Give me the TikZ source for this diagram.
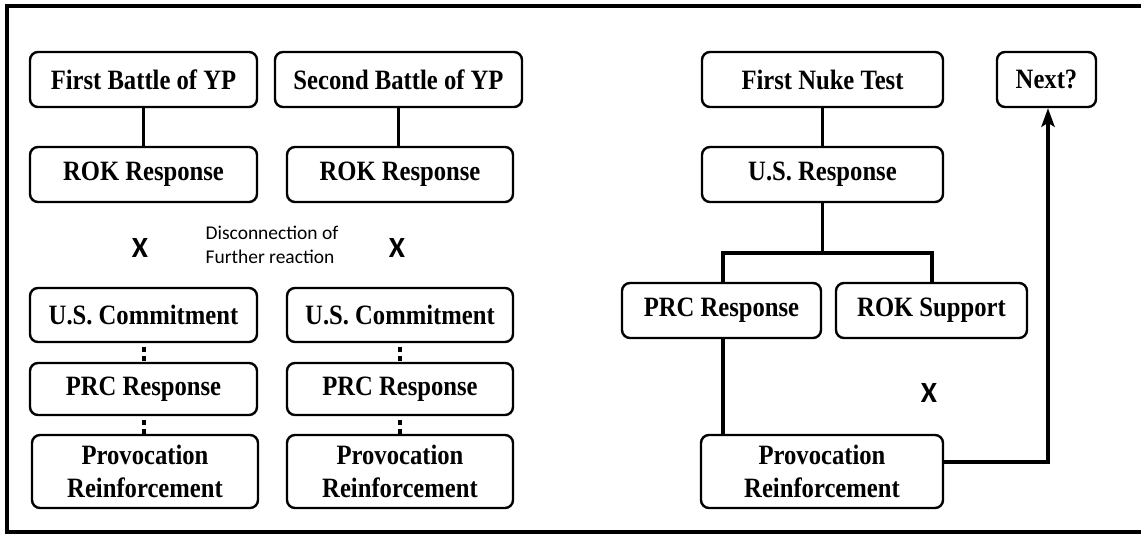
\documentclass[tikz,border=0pt]{standalone}
\usepackage{fontspec}
\setmainfont{Liberation Serif}[FakeStretch=0.88]
\newfontfamily\carl{Carlito}
\usetikzlibrary{arrows.meta}
\tikzset{
  box/.style={draw=black, line width=1.8pt, rounded corners=6pt, fill=white,
    inner sep=0pt, align=center,
    font=\bfseries\fontsize{21}{24.75}\selectfont},
  conn/.style={line width=2.4pt, line cap=rect},
  dotconn/.style={line width=3pt, dash pattern=on 3.75pt off 3pt, dash phase=4.25pt},
  xmark/.style={font=\carl\bfseries\fontsize{22}{24}\selectfont, inner sep=0pt},
  w1/.style={minimum width=170.25pt, minimum height=41.25pt},
}
\begin{document}
\begin{tikzpicture}[x=0.75pt, y=-0.75pt]
\useasboundingbox (0,0) rectangle (1141,534);
% frame
\draw[line width=3pt] (1150,6) -- (6.5,6) -- (6.5,532) -- (1150,532);

% left column 1
\node[box, w1] (fb1) at (143.5,79.5) {First Battle of YP};
\node[box, w1] (rok1) at (143.5,174.5) {ROK Response};
\node[box, minimum width=170.25pt, minimum height=40.5pt] (us1) at (143.5,315) {U.S. Commitment};
\node[box, minimum width=170.25pt, minimum height=39pt] (prc1) at (143.5,389) {PRC Response};
\node[box, minimum width=169.5pt, minimum height=54.75pt] (prov1) at (145,471.5) {Provocation\\Reinforcement};
\draw[conn] (fb1.south) -- (rok1.north);
\draw[dotconn] (us1.south) -- (prc1.north);
\draw[dotconn] (prc1.south) -- (prov1.north -| prc1.south);

% left column 2
\node[box, minimum width=185.25pt, minimum height=41.25pt] (sb) at (398.5,79.5) {Second Battle of YP};
\node[box, minimum width=169.5pt, minimum height=41.25pt] (rok2) at (400,174.5) {ROK Response};
\node[box, minimum width=169.5pt, minimum height=40.5pt] (us2) at (400,315) {U.S. Commitment};
\node[box, minimum width=169.5pt, minimum height=39pt] (prc2) at (400,389) {PRC Response};
\node[box, minimum width=169.5pt, minimum height=54.75pt] (prov2) at (400,471.5) {Provocation\\Reinforcement};
\draw[conn] (sb.south) -- (rok2.north -| sb.south);
\draw[dotconn] (us2.south) -- (prc2.north);
\draw[dotconn] (prc2.south) -- (prov2.north);

\node[xmark] (x1) at (140,248) {X};
\node[xmark] (x2) at (397,248) {X};
\node[font=\carl\fontsize{14.6}{18}\selectfont, align=left, inner sep=0pt] (disc) at (272,245) {Disconnection of\\Further reaction};

% right part
\node[box, minimum width=180.75pt, minimum height=41.25pt] (nuke) at (822.5,79.5) {First Nuke Test};
\node[box, minimum width=180.75pt, minimum height=41.25pt] (usr) at (822.5,174.5) {U.S. Response};
\node[box, minimum width=74.25pt, minimum height=41.25pt] (next) at (1046.5,79.5) {Next?};
\node[box, minimum width=149.25pt, minimum height=41.25pt] (prc3) at (721.5,310.5) {PRC Response};
\node[box, minimum width=143.25pt, minimum height=41.25pt] (roks) at (931.5,310.5) {ROK Support};
\node[box, minimum width=181.5pt, minimum height=54.75pt] (prov3) at (822,471.5) {Provocation\\Reinforcement};
\node[xmark] (x3) at (929,393) {X};

\coordinate (br) at (822.5,253);
\coordinate (brl) at (723,253);
\coordinate (brr) at (932,253);
\draw[conn] (nuke.south) -- (usr.north);
\draw[conn] (usr.south) -- (br);
\draw[line width=2.4pt, line cap=butt, line join=miter] (prc3.north -| brl) -- (brl) -- (brr) -- (roks.north -| brr);
\draw[conn, line cap=butt] (prc3.south -| brl) -- (prov3.north -| brl);
\coordinate (turn) at (1048,462);
\draw[line width=2.4pt, line join=miter, -{Stealth[length=14pt, width=10pt, inset=3pt]}] (prov3.east |- turn) -- (turn) -- (next.south -| turn);
\end{tikzpicture}
\end{document}
